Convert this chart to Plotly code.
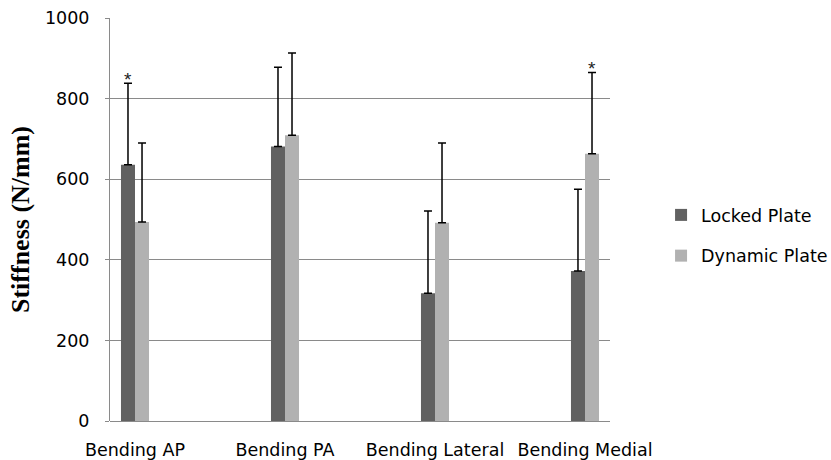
import plotly.graph_objects as go

categories = ["Bending AP", "Bending PA", "Bending Lateral", "Bending Medial"]
locked = [636, 681, 317, 372]
locked_err = [202, 197, 204, 203]
dynamic = [494, 709, 492, 663]
dynamic_err = [196, 204, 198, 202]
locked_sig = [True, False, False, False]
dynamic_sig = [False, False, False, True]

xpos = list(range(len(categories)))
FONT = "DejaVu Sans"

fig = go.Figure()
fig.add_trace(go.Bar(
    x=xpos, y=locked, name="Locked Plate", marker_color="#616161",
    marker_line_width=0, legendgroup="a",
    error_y=dict(type="data", array=locked_err, symmetric=False,
                 arrayminus=[0] * 4, color="black", thickness=1.5, width=4),
))
fig.add_trace(go.Bar(
    x=xpos, y=dynamic, name="Dynamic Plate", marker_color="#b1b1b1",
    marker_line_width=0, legendgroup="b",
    error_y=dict(type="data", array=dynamic_err, symmetric=False,
                 arrayminus=[0] * 4, color="black", thickness=1.5, width=4),
))

half = 0.0467
for i in xpos:
    if locked_sig[i]:
        fig.add_annotation(x=i - half, y=locked[i] + locked_err[i], text="*",
                           showarrow=False, yanchor="bottom", yshift=-9,
                           font=dict(size=19, color="#222", family="Liberation Sans"))
    if dynamic_sig[i]:
        fig.add_annotation(x=i + half, y=dynamic[i] + dynamic_err[i], text="*",
                           showarrow=False, yanchor="bottom", yshift=-9,
                           font=dict(size=19, color="#222", family="Liberation Sans"))

fig.update_layout(
    width=831, height=460,
    margin=dict(l=110, r=221, t=18, b=39),
    paper_bgcolor="white", plot_bgcolor="white",
    barmode="group", bargap=0.813, bargroupgap=0,
    font=dict(family=FONT, size=17.5, color="black"),
    legend=dict(xref="container", yref="container", x=0.7955, y=0.488,
                xanchor="left", yanchor="middle",
                tracegroupgap=15, font=dict(size=17.5, family=FONT),
                itemwidth=30, bgcolor="rgba(0,0,0,0)"),
    showlegend=True,
)
fig.update_xaxes(
    range=[-0.1667, 3.1667], tickvals=xpos, ticktext=categories,
    showgrid=False, zeroline=False, showline=False, ticks="",
    ticklabelstandoff=16, automargin=False,
    tickfont=dict(size=17.5, family=FONT),
)
fig.update_yaxes(
    range=[0, 1000], tickvals=[0, 200, 400, 600, 800, 1000],
    showgrid=True, gridcolor="#8a8a8a", gridwidth=1,
    zeroline=True, zerolinecolor="#8a8a8a", zerolinewidth=1,
    showline=True, linecolor="#8a8a8a", linewidth=1,
    ticks="outside", ticklen=4, tickcolor="#8a8a8a",
    ticklabelstandoff=12, automargin=False,
    tickfont=dict(size=17.5, family=FONT),
    title=dict(text="Stiffness (N/mm)", standoff=7,
               font=dict(family="Liberation Serif", size=26, color="black",
                         weight="bold")),
)

fig.write_html(
    "out.html",
    config={"displayModeBar": False},
    post_script="document.body.style.margin='0';document.body.style.overflow='hidden';",
)
